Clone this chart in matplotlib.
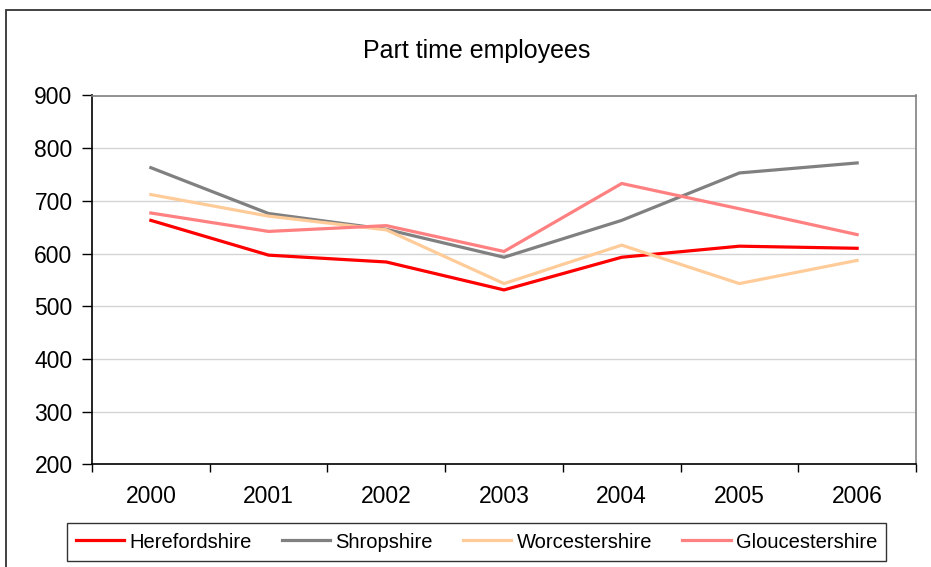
import matplotlib
matplotlib.use("Agg")
import matplotlib.pyplot as plt
from matplotlib.patches import Rectangle
import numpy as np

plt.rcParams['font.family'] = ['Liberation Sans', 'DejaVu Sans']

years = ["2000", "2001", "2002", "2003", "2004", "2005", "2006"]
herefordshire = [663, 597, 584, 531, 593, 614, 610]
shropshire = [763, 676, 646, 593, 663, 753, 772]
worcestershire = [712, 671, 645, 543, 616, 543, 587]
gloucestershire = [677, 642, 653, 604, 733, 685, 636]
y_ticks = [200, 300, 400, 500, 600, 700, 800, 900]

W, H = 931, 567
fig = plt.figure(figsize=(W / 100, H / 100), dpi=100)

# outer chart frame (extends beyond the right/bottom edges)
fig.patches.append(Rectangle((6 / W, -0.1), 2.0, (H - 10) / H + 0.1,
                             transform=fig.transFigure, fill=False,
                             edgecolor='#333333', linewidth=1.3))

left, right, top, bottom = 92, 916, 95.5, 464.3
ax = fig.add_axes([left / W, 1 - bottom / H, (right - left) / W, (bottom - top) / H])

x = np.arange(len(years))
series = [
    ("Herefordshire", herefordshire, "#FF0000"),
    ("Shropshire", shropshire, "#808080"),
    ("Worcestershire", worcestershire, "#FFCC99"),
    ("Gloucestershire", gloucestershire, "#FF8080"),
]
for name, vals, col in series:
    ax.plot(x, vals, color=col, linewidth=2.3, label=name, solid_joinstyle='miter')

ax.set_xlim(-0.5, len(years) - 0.5)
ax.set_ylim(200, 900)
ax.set_yticks(y_ticks)
ax.set_yticklabels([str(v) for v in y_ticks], fontsize=16.5)
ax.yaxis.grid(True, color='#D4D4D4', linewidth=1)
ax.set_axisbelow(True)

ax.set_xticks(np.arange(-0.5, len(years)), labels=[''] * (len(years) + 1))
ax.set_xticks(x, labels=years, minor=True)
ax.tick_params(axis='x', which='major', length=6, width=1, color='black', direction='out')
ax.tick_params(axis='x', which='minor', length=0, labelsize=16.5, pad=15)
ax.tick_params(axis='y', length=7, width=1, color='black', pad=7)

ax.spines['left'].set_color('black')
ax.spines['bottom'].set_color('black')
ax.spines['top'].set_color('#808080')
ax.spines['right'].set_color('#808080')
for s in ax.spines.values():
    s.set_linewidth(1.2)

fig.text(477 / W, 1 - 51 / H, "Part time employees", ha='center', va='center', fontsize=18)

leg = fig.legend(loc='center', bbox_to_anchor=(476.5 / W, 1 - 542 / H), ncol=4,
                 fontsize=14.5, frameon=True, fancybox=False, edgecolor='black',
                 handlelength=2.4, handletextpad=0.25, columnspacing=1.5,
                 borderpad=0.45, borderaxespad=0)
leg.get_frame().set_linewidth(1.0)

fig.savefig("out.png", dpi=100)
